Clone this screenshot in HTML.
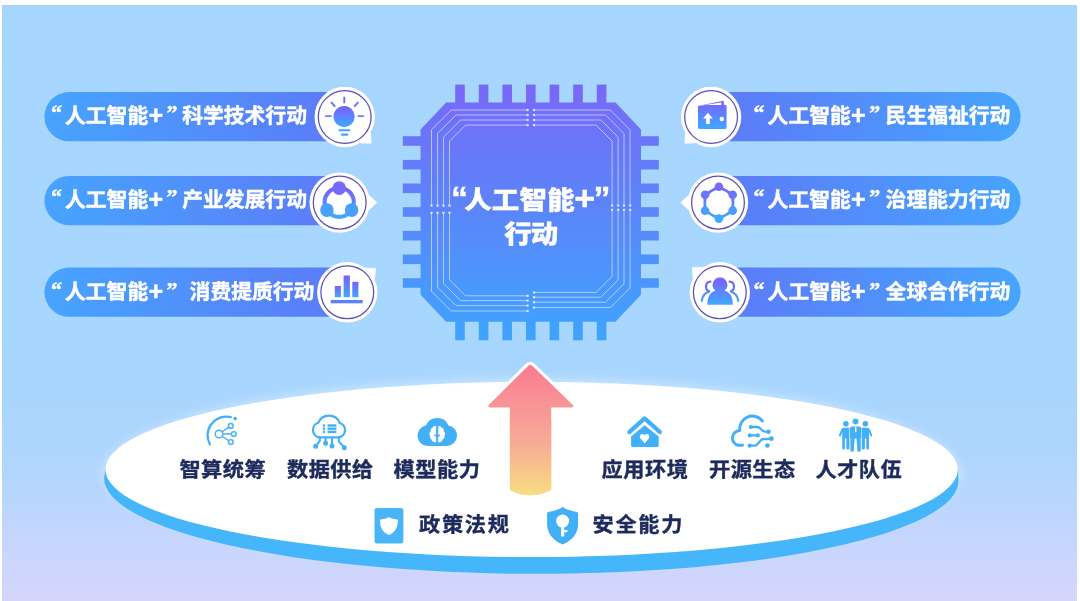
<!DOCTYPE html>
<html lang="zh-CN"><head><meta charset="utf-8"><title>“人工智能+”行动</title>
<style>
html,body{margin:0;padding:0;background:#fff;}
body{width:1080px;height:601px;overflow:hidden;font-family:"Liberation Sans","Noto Sans CJK SC",sans-serif;}
svg{display:block}
text{font-family:"Liberation Sans","Noto Sans CJK SC",sans-serif;}
.pt{font-size:20.8px;font-weight:700;fill:#fff;stroke:#fff;stroke-width:0.45px;}
.q{font-size:22px;font-family:"Liberation Serif","Noto Serif CJK SC",serif;}
.pp{font-size:25px;}
.bt{font-size:21.2px;font-weight:700;fill:#1d2a5b;stroke:#1d2a5b;stroke-width:0.4px;}
.tt{font-size:27.5px;font-weight:900;fill:#fff;stroke:#fff;stroke-width:0.4px;}
</style></head><body>
<svg width="1080" height="601" viewBox="0 0 1080 601">
<defs>
<linearGradient id="bg" x1="0" y1="0" x2="0" y2="1">
<stop offset="0" stop-color="#a6d6fe"/><stop offset="0.6" stop-color="#a7d6fe"/><stop offset="0.747" stop-color="#add6fe"/><stop offset="0.83" stop-color="#b9d6fe"/><stop offset="0.914" stop-color="#c8d6fd"/><stop offset="1" stop-color="#d6d5fc"/>
</linearGradient>
<linearGradient id="chip" gradientUnits="userSpaceOnUse" x1="0" y1="84" x2="0" y2="341">
<stop offset="0" stop-color="#7a66f8"/><stop offset="0.12" stop-color="#7070f8"/><stop offset="0.5" stop-color="#5a86f9"/><stop offset="1" stop-color="#3ea4fe"/>
</linearGradient>
<linearGradient id="pl" gradientUnits="userSpaceOnUse" x1="44" y1="0" x2="345" y2="0">
<stop offset="0" stop-color="#46a4fe"/><stop offset="1" stop-color="#5d7af8"/>
</linearGradient>
<linearGradient id="pr" gradientUnits="userSpaceOnUse" x1="715" y1="0" x2="1021" y2="0">
<stop offset="0" stop-color="#5d7af8"/><stop offset="1" stop-color="#46a4fe"/>
</linearGradient>
<linearGradient id="ic" x1="0" y1="0" x2="0" y2="1">
<stop offset="0" stop-color="#7b60fb"/><stop offset="1" stop-color="#3fa8ff"/>
</linearGradient>
<linearGradient id="arrow" gradientUnits="userSpaceOnUse" x1="0" y1="365" x2="0" y2="496">
<stop offset="0" stop-color="#f97c91"/><stop offset="0.32" stop-color="#f99596"/><stop offset="0.62" stop-color="#f8ad96"/><stop offset="0.85" stop-color="#f8cb88"/><stop offset="1" stop-color="#f6de82"/>
</linearGradient>
<filter id="soft" filterUnits="userSpaceOnUse" x="0" y="0" width="1080" height="601"><feGaussianBlur stdDeviation="0.55"/></filter>
<filter id="glow" x="-10%" y="-30%" width="120%" height="160%"><feGaussianBlur stdDeviation="5"/></filter>
</defs>
<rect width="1080" height="601" fill="#fff"/>
<rect x="2" y="5" width="1075" height="596" fill="url(#bg)"/>
<g filter="url(#soft)">

<g fill="url(#chip)">
<rect x="455.2" y="84.6" width="9.6" height="18.8"/>
<rect x="455.2" y="320.7" width="9.6" height="19.6"/>
<rect x="478.8" y="84.6" width="9.6" height="18.8"/>
<rect x="478.8" y="320.7" width="9.6" height="19.6"/>
<rect x="502.4" y="84.6" width="9.6" height="18.8"/>
<rect x="502.4" y="320.7" width="9.6" height="19.6"/>
<rect x="526.0" y="84.6" width="9.6" height="18.8"/>
<rect x="526.0" y="320.7" width="9.6" height="19.6"/>
<rect x="549.6" y="84.6" width="9.6" height="18.8"/>
<rect x="549.6" y="320.7" width="9.6" height="19.6"/>
<rect x="573.2" y="84.6" width="9.6" height="18.8"/>
<rect x="573.2" y="320.7" width="9.6" height="19.6"/>
<rect x="596.8" y="84.6" width="9.6" height="18.8"/>
<rect x="596.8" y="320.7" width="9.6" height="19.6"/>
<rect x="402.8" y="136.2" width="18.8" height="9.6"/>
<rect x="640.0" y="136.2" width="18.8" height="9.6"/>
<rect x="402.8" y="159.9" width="18.8" height="9.6"/>
<rect x="640.0" y="159.9" width="18.8" height="9.6"/>
<rect x="402.8" y="183.5" width="18.8" height="9.6"/>
<rect x="640.0" y="183.5" width="18.8" height="9.6"/>
<rect x="402.8" y="207.2" width="18.8" height="9.6"/>
<rect x="640.0" y="207.2" width="18.8" height="9.6"/>
<rect x="402.8" y="230.9" width="18.8" height="9.6"/>
<rect x="640.0" y="230.9" width="18.8" height="9.6"/>
<rect x="402.8" y="254.5" width="18.8" height="9.6"/>
<rect x="640.0" y="254.5" width="18.8" height="9.6"/>
<rect x="402.8" y="278.2" width="18.8" height="9.6"/>
<rect x="640.0" y="278.2" width="18.8" height="9.6"/>
<path d="M446.1,102.4 H615.5 L641.0,129.4 V294.7 L615.5,321.7 H446.1 L420.6,294.7 V129.4 Z"/>
</g>
<g fill="none" stroke="#e4e6ff" stroke-opacity="0.66" stroke-width="1">
<path d="M527.6,110 H451.3 L431.5,129.8 V205.6"/>
<path d="M534.0,110 H610.3 L630.0999999999999,129.8 V205.6"/>
<path d="M527.6,311 H451.3 L431.5,291.2 V212.8"/>
<path d="M534.0,307.6 H610.3 L630.0999999999999,287.8 V209.8"/>
<path d="M527.6,115 H456.0 L437.6,133.4 V205.6"/>
<path d="M534.0,115 H605.5999999999999 L623.9999999999999,133.4 V205.6"/>
<path d="M527.6,305.6 H456.0 L437.6,287.20000000000005 V212.8"/>
<path d="M534.0,302.20000000000005 H605.5999999999999 L623.9999999999999,283.80000000000007 V209.8"/>
<path d="M527.6,120 H460.7 L443.5,137.2 V205.6"/>
<path d="M534.0,120 H600.8999999999999 L618.0999999999999,137.2 V205.6"/>
<path d="M527.6,300.6 H460.7 L443.5,283.40000000000003 V212.8"/>
<path d="M534.0,297.20000000000005 H600.8999999999999 L618.0999999999999,280.00000000000006 V209.8"/>
<path d="M527.6,125.1 H465.5 L449.5,141.1 V205.6"/>
<path d="M534.0,125.1 H596.0999999999999 L612.0999999999999,141.1 V205.6"/>
<path d="M527.6,295.8 H465.5 L449.5,279.8 V212.8"/>
<path d="M534.0,292.40000000000003 H596.0999999999999 L612.0999999999999,276.40000000000003 V209.8"/>
</g>
<g fill="#eef0ff" fill-opacity="0.85">
<rect x="526.5" y="108.9" width="2.2" height="2.2"/>
<rect x="532.9" y="108.9" width="2.2" height="2.2"/>
<rect x="526.5" y="309.9" width="2.2" height="2.2"/>
<rect x="532.9" y="306.5" width="2.2" height="2.2"/>
<rect x="430.4" y="204.5" width="2.2" height="2.2"/>
<rect x="430.4" y="211.7" width="2.2" height="2.2"/>
<rect x="629.0" y="204.5" width="2.2" height="2.2"/>
<rect x="629.0" y="208.7" width="2.2" height="2.2"/>
<rect x="526.5" y="113.9" width="2.2" height="2.2"/>
<rect x="532.9" y="113.9" width="2.2" height="2.2"/>
<rect x="526.5" y="304.5" width="2.2" height="2.2"/>
<rect x="532.9" y="301.1" width="2.2" height="2.2"/>
<rect x="436.5" y="204.5" width="2.2" height="2.2"/>
<rect x="436.5" y="211.7" width="2.2" height="2.2"/>
<rect x="622.9" y="204.5" width="2.2" height="2.2"/>
<rect x="622.9" y="208.7" width="2.2" height="2.2"/>
<rect x="526.5" y="118.9" width="2.2" height="2.2"/>
<rect x="532.9" y="118.9" width="2.2" height="2.2"/>
<rect x="526.5" y="299.5" width="2.2" height="2.2"/>
<rect x="532.9" y="296.1" width="2.2" height="2.2"/>
<rect x="442.4" y="204.5" width="2.2" height="2.2"/>
<rect x="442.4" y="211.7" width="2.2" height="2.2"/>
<rect x="617.0" y="204.5" width="2.2" height="2.2"/>
<rect x="617.0" y="208.7" width="2.2" height="2.2"/>
<rect x="526.5" y="124.0" width="2.2" height="2.2"/>
<rect x="532.9" y="124.0" width="2.2" height="2.2"/>
<rect x="526.5" y="294.7" width="2.2" height="2.2"/>
<rect x="532.9" y="291.3" width="2.2" height="2.2"/>
<rect x="448.4" y="204.5" width="2.2" height="2.2"/>
<rect x="448.4" y="211.7" width="2.2" height="2.2"/>
<rect x="611.0" y="204.5" width="2.2" height="2.2"/>
<rect x="611.0" y="208.7" width="2.2" height="2.2"/>
</g>
<g transform="translate(0,208.6) scale(1,0.9)"><text class="tt" y="0"><tspan x="451.0" font-size="34">“</tspan><tspan x="464.2" letter-spacing="0.15">人工智能</tspan><tspan x="574.2" font-size="36" dy="2">+</tspan><tspan x="593.4" font-size="34" dy="-2">”</tspan></text></g>
<g transform="translate(0,243.4) scale(1,0.9)"><text class="tt" x="504.2" y="0" letter-spacing="-1">行动</text></g>
<path d="M69.0,92.1 H344.7 V141.3 H69.0 A24.6,24.6 0 0 1 69.0,92.1Z" fill="url(#pl)"/>
<text class="pt" y="122.6"><tspan x="51.0" class="q" dy="-2.2">“</tspan><tspan x="65.0" dy="2.2">人工智能</tspan><tspan x="148.4" class="pp" dy="1.2">+</tspan><tspan x="166.6" class="q" dy="-3.4">”</tspan><tspan x="182.2" dy="2.2">科学技术行动</tspan></text>
<path d="M711.1,92.1 H996.0 A24.6,24.6 0 0 1 996.0,141.3 H711.1Z" fill="url(#pr)"/>
<text class="pt" y="122.6"><tspan x="753.6" class="q" dy="-2.2">“</tspan><tspan x="767.6" dy="2.2">人工智能</tspan><tspan x="851.0" class="pp" dy="1.2">+</tspan><tspan x="869.2" class="q" dy="-3.4">”</tspan><tspan x="885.6" dy="2.2">民生福祉行动</tspan></text>
<path d="M69.0,176.0 H339.7 V225.2 H69.0 A24.6,24.6 0 0 1 69.0,176.0Z" fill="url(#pl)"/>
<text class="pt" y="206.6"><tspan x="51.0" class="q" dy="-2.2">“</tspan><tspan x="65.0" dy="2.2">人工智能</tspan><tspan x="148.4" class="pp" dy="1.2">+</tspan><tspan x="166.6" class="q" dy="-3.4">”</tspan><tspan x="182.2" dy="2.2">产业发展行动</tspan></text>
<path d="M718.0,176.0 H996.0 A24.6,24.6 0 0 1 996.0,225.2 H718.0Z" fill="url(#pr)"/>
<text class="pt" y="206.6"><tspan x="753.6" class="q" dy="-2.2">“</tspan><tspan x="767.6" dy="2.2">人工智能</tspan><tspan x="851.0" class="pp" dy="1.2">+</tspan><tspan x="869.2" class="q" dy="-3.4">”</tspan><tspan x="885.6" dy="2.2">治理能力行动</tspan></text>
<path d="M69.0,267.59999999999997 H347.3 V316.8 H69.0 A24.6,24.6 0 0 1 69.0,267.59999999999997Z" fill="url(#pl)"/>
<text class="pt" y="299.0"><tspan x="51.0" class="q" dy="-2.2">“</tspan><tspan x="65.0" dy="2.2">人工智能</tspan><tspan x="148.4" class="pp" dy="1.2">+</tspan><tspan x="166.6" class="q" dy="-3.4">”</tspan><tspan x="189.6" dy="2.2">消费提质行动</tspan></text>
<path d="M719.8,267.59999999999997 H996.0 A24.6,24.6 0 0 1 996.0,316.8 H719.8Z" fill="url(#pr)"/>
<text class="pt" y="299.0"><tspan x="753.6" class="q" dy="-2.2">“</tspan><tspan x="767.6" dy="2.2">人工智能</tspan><tspan x="851.0" class="pp" dy="1.2">+</tspan><tspan x="869.2" class="q" dy="-3.4">”</tspan><tspan x="885.6" dy="2.2">全球合作行动</tspan></text>
<circle cx="344.7" cy="117.0" r="30.2" fill="#fff"/>
<path d="M370.6,132.6 L371.0,143.3 L360.3,142.9Z" fill="#fff" stroke="#fff" stroke-width="0.6" stroke-linejoin="round"/>
<circle cx="344.7" cy="117.0" r="26.4" fill="none" stroke="#5d4fb6" stroke-width="1.25"/>
<circle cx="711.1" cy="117.0" r="30.2" fill="#fff"/>
<path d="M695.5,142.9 L684.8,143.3 L685.2,132.6Z" fill="#fff" stroke="#fff" stroke-width="0.6" stroke-linejoin="round"/>
<circle cx="711.1" cy="117.0" r="26.4" fill="none" stroke="#5d4fb6" stroke-width="1.25"/>
<circle cx="339.7" cy="202.6" r="30.2" fill="#fff"/>
<path d="M369.0,195.3 L376.9,202.6 L369.0,209.9Z" fill="#fff" stroke="#fff" stroke-width="0.6" stroke-linejoin="round"/>
<circle cx="339.7" cy="202.6" r="26.4" fill="none" stroke="#5d4fb6" stroke-width="1.25"/>
<circle cx="718.0" cy="202.6" r="30.2" fill="#fff"/>
<path d="M688.7,209.9 L680.8,202.6 L688.7,195.3Z" fill="#fff" stroke="#fff" stroke-width="0.6" stroke-linejoin="round"/>
<circle cx="718.0" cy="202.6" r="26.4" fill="none" stroke="#5d4fb6" stroke-width="1.25"/>
<circle cx="347.3" cy="292.3" r="30.2" fill="#fff"/>
<path d="M365.1,267.9 L375.8,268.4 L374.4,279.1Z" fill="#fff" stroke="#fff" stroke-width="0.6" stroke-linejoin="round"/>
<circle cx="347.3" cy="292.3" r="26.4" fill="none" stroke="#5d4fb6" stroke-width="1.25"/>
<circle cx="719.8" cy="292.3" r="30.2" fill="#fff"/>
<path d="M693.1,278.1 L692.2,267.4 L702.9,267.3Z" fill="#fff" stroke="#fff" stroke-width="0.6" stroke-linejoin="round"/>
<circle cx="719.8" cy="292.3" r="26.4" fill="none" stroke="#5d4fb6" stroke-width="1.25"/>
<g id="i-bulb">
<circle cx="344.1" cy="116.6" r="10.6" fill="url(#ic)"/>
<g stroke="#5f86fb" stroke-width="1.9" stroke-linecap="round" fill="none">
<path d="M344.3,97.4V102.4" stroke="#7468fb"/>
<path d="M331.6,102.6L334.6,106.2" stroke="#6f70fb"/><path d="M357.8,102.6L354.8,106.2" stroke="#6f70fb"/>
<path d="M325.8,116.1H331"/><path d="M358.4,116.1H363.4"/>
<path d="M339.4,130.3H349.4" stroke="#4a9efd" stroke-width="2.1"/><path d="M341.8,134.6H347.4" stroke="#45a3fe" stroke-width="2.1"/>
</g></g>
<g id="i-ring">
<circle cx="339.2" cy="202.3" r="14.6" fill="none" stroke="url(#ic)" stroke-width="4.1"/>
<circle cx="339.2" cy="188.1" r="6.8" fill="#7769fb"/>
<circle cx="326.9" cy="210.1" r="6.8" fill="#489ffe"/>
<circle cx="351.6" cy="210.1" r="6.8" fill="#489ffe"/>
</g>
<g id="i-bars" fill="url(#ic)">
<rect x="334.8" y="286" width="6.1" height="11.2"/>
<rect x="343.6" y="275.5" width="6.3" height="21.7"/>
<rect x="352.3" y="281.9" width="6.1" height="15.3"/>
<rect x="330.7" y="300" width="32" height="3.3" fill="#5a82fa"/>
</g>
<g id="i-wallet">
<path d="M698,105.9 L722.3,100.9 Q723.9,100.7 723.9,102.3 V104.8 H725 Q726.6,104.8 726.6,106.4 V127.5 Q726.6,129.1 725,129.1 H699.6 Q698,129.1 698,127.5 Z" fill="url(#ic)"/>
<path d="M701.6,105.5 L721.4,102.6 V104.9 H701.6Z" fill="#fff"/>
<path d="M707.9,112.8 L712.8,118.6 H709.7 V124 H706.1 V118.6 H703Z" fill="#fff"/>
<circle cx="721.8" cy="119" r="2.2" fill="#fff"/>
</g>
<g id="i-hex">
<polygon points="718.9,186.8 732.7,194.8 732.7,210.6 718.9,218.6 705.1,210.7 705.1,194.8" fill="none" stroke="url(#ic)" stroke-width="3.2" stroke-linejoin="round"/>
<circle cx="718.9" cy="202.7" r="12.7" fill="#fff"/>
<circle cx="718.9" cy="186.8" r="4.3" fill="#7868fb"/>
<circle cx="732.7" cy="194.8" r="4.3" fill="#6d74fb"/>
<circle cx="732.7" cy="210.6" r="4.3" fill="#4c9cfe"/>
<circle cx="718.9" cy="218.6" r="4.3" fill="#40a8ff"/>
<circle cx="705.1" cy="210.7" r="4.3" fill="#4c9cfe"/>
<circle cx="705.1" cy="194.8" r="4.3" fill="#6d74fb"/>
</g>
<g id="i-people">
<g fill="none" stroke="url(#ic)" stroke-width="2.2" stroke-linecap="round">
<path d="M710.4,281.6 A4.9,4.9 0 0 0 710,291.3 Q702.6,293.4 701.8,300.8"/>
<path d="M729.6,281.6 A4.9,4.9 0 0 1 730,291.3 Q737.4,293.4 738.2,300.8"/>
</g>
<path d="M720,277.6 A7.3,7.3 0 0 1 724.6,290.6 Q732.6,293.2 732.8,303.2 V304.7 H707.4 V303.2 Q707.6,293.2 715.4,290.6 A7.3,7.3 0 0 1 720,277.6Z" fill="url(#ic)" stroke="#fff" stroke-width="2.6" paint-order="stroke" stroke-linejoin="round"/>
</g>
<ellipse cx="531.6" cy="473.5" rx="430.2" ry="95.6" fill="#ffffff" fill-opacity="0.32" filter="url(#glow)"/>
<ellipse cx="531.3" cy="479.4" rx="427.2" ry="94.4" fill="#45b6fa" transform="rotate(0.18 531.3 479.4)"/>
<rect x="105.0" y="469.5" width="853.2" height="11" fill="#45b6fa"/>
<ellipse cx="531.6" cy="469.5" rx="426.2" ry="87.6" fill="#fff"/>
<path d="M530.3,365.0 Q531.8,365.0 532.8,366.2 L572.4,404.6 Q574.8,407.4 571.2,407.4 H551.2 V490 Q530.6,500.6 509.9,490 V407.4 H490.6 Q486.8,407.4 489.2,404.6 L527.8,366.2 Q528.8,365.0 530.3,365.0Z" fill="url(#arrow)" stroke="#fff" stroke-width="6" stroke-linejoin="round" paint-order="stroke"/>
<path d="M551.2,420 V490 Q530.6,500.6 509.9,490 V420Z" fill="url(#arrow)"/>
<g transform="translate(179.4,476.6) scale(1,0.95)"><text class="bt" x="0" y="0" letter-spacing="0.5">智算统筹</text></g>
<g transform="translate(287.0,476.6) scale(1,0.95)"><text class="bt" x="0" y="0" letter-spacing="0.5">数据供给</text></g>
<g transform="translate(393.6,476.6) scale(1,0.95)"><text class="bt" x="0" y="0" letter-spacing="0.5">模型能力</text></g>
<g transform="translate(601.6,476.6) scale(1,0.95)"><text class="bt" x="0" y="0" letter-spacing="0.5">应用环境</text></g>
<g transform="translate(709.0,476.6) scale(1,0.95)"><text class="bt" x="0" y="0" letter-spacing="0.5">开源生态</text></g>
<g transform="translate(815.4,476.6) scale(1,0.95)"><text class="bt" x="0" y="0" letter-spacing="0.5">人才队伍</text></g>
<g transform="translate(419.0,531.6) scale(1,0.95)"><text class="bt" x="0" y="0" letter-spacing="1.7">政策法规</text></g>
<g transform="translate(592.6,531.6) scale(1,0.95)"><text class="bt" x="0" y="0" letter-spacing="1.7">安全能力</text></g>
<g id="b-share" fill="none" stroke="#42b0f8" stroke-linecap="round">
<path d="M209.9,444.4 A18.7,18.7 0 0 1 230.8,417.2" stroke-width="2.3"/>
<circle cx="235.2" cy="418.6" r="1.8" fill="#42b0f8" stroke="none"/>
<g stroke-width="1.4">
<path d="M219,434 L230.8,425.9 M219,434 L233.8,434 M219,434 L230.8,442"/>
<circle cx="219" cy="434" r="3.8" fill="#fbfeff"/>
<circle cx="230.8" cy="425.9" r="2.4" fill="#f4fbff"/><circle cx="233.8" cy="434" r="2.4" fill="#f4fbff"/><circle cx="230.8" cy="442" r="2.4" fill="#f4fbff"/>
</g></g>
<g id="b-data" fill="none" stroke="#42b0f8" stroke-width="2.2" stroke-linecap="round" stroke-linejoin="round">
<path d="M319.6,437.4 A7.5,7.5 0 0 1 318.2,422.8 A11.6,11.6 0 0 1 339.8,423 A7.4,7.4 0 0 1 338.6,437.4 Z"/>
<g stroke-width="2.1"><path d="M319.8,437.6 V440.8 L316,445.8"/><path d="M325.6,437.6 V442.6"/><path d="M332,437.6 V445.4"/><path d="M338.8,437.6 V441.4 L344,447.2"/></g>
<g fill="#42b0f8" stroke="none"><circle cx="315.7" cy="446.3" r="2.5"/><circle cx="325.6" cy="443.2" r="2.5"/><circle cx="332" cy="446" r="2.5"/><circle cx="344.3" cy="447.8" r="2.5"/>
<rect x="322.8" y="424.3" width="2.2" height="2.4"/><rect x="327.6" y="424.3" width="8.8" height="2.4"/>
<rect x="322.8" y="427.5" width="2.2" height="2.4"/><rect x="327.6" y="427.5" width="8.8" height="2.4"/>
<rect x="322.8" y="430.7" width="2.2" height="2.4"/><rect x="327.6" y="430.7" width="8.8" height="2.4"/>
</g></g>
<g id="b-model">
<path d="M427.4,446 A10.3,10.3 0 0 1 425.8,425.6 A12.4,12.4 0 0 1 448.6,425.4 A10.4,10.4 0 0 1 447,446 Z" fill="#42b0f8"/>
<path d="M436.1,426 Q433.4,425.4 432.4,427.8 Q430.2,428.6 430.6,431.2 Q428.4,433.4 430,435.8 Q429.4,438.4 431.6,439.4 Q432.2,442.2 436.1,442.2 V437 L434,435.2 L434.8,434.2 L436.1,435.2 Z" fill="#fff"/>
<path d="M438.3,426 Q441,425.4 442,427.8 Q444.2,428.6 443.8,431.2 Q446,433.4 444.4,435.8 Q445,438.4 442.8,439.4 Q442.2,442.2 438.3,442.2 V437 L440.4,435.2 L439.6,434.2 L438.3,435.2 Z" fill="#fff"/>
</g>
<g id="b-house">
<path d="M629.4,432 L644.6,418.4 L659.8,432" fill="none" stroke="#42b0f8" stroke-width="4.3" stroke-linecap="round" stroke-linejoin="round"/>
<path d="M644.6,425.2 L658.7,436.6 V445.6 Q658.7,447.1 657.2,447.1 H632.6 Q631.1,447.1 631.1,445.6 V436.6 Z" fill="#42b0f8"/>
<path d="M644.6,443.2 L640.6,438.8 Q639,436.4 640.6,434.6 Q642.6,433 644.6,435.2 Q646.6,433 648.6,434.6 Q650.2,436.4 648.6,438.8 Z" fill="#fff"/>
</g>
<g id="b-open" fill="none" stroke="#42b0f8" stroke-linecap="round" stroke-linejoin="round">
<path d="M742.6,445.3 H738.6 A7.4,7.4 0 0 1 739.8,430.6 A12.7,12.7 0 0 1 762.4,421" stroke-width="2.9"/>
<g stroke-width="2.3"><path d="M751,427 H757 Q759,427 760.4,428.6 Q762.6,431.4 765,431.6 L768.4,431.8"/><path d="M749.8,435.4 H757.8"/><path d="M749.8,445.7 H754.6 Q756,445.7 757.2,444.4 L760.6,440.4 Q761.8,439 763.4,439 L771.2,438.8"/></g>
<g fill="#42b0f8" stroke="none"><circle cx="750.9" cy="427" r="2.1"/><circle cx="768.5" cy="431.8" r="2.3"/><circle cx="749.8" cy="435.4" r="2.1"/><circle cx="757.8" cy="435.4" r="2.1"/><circle cx="749.7" cy="445.7" r="2.1"/><circle cx="771.4" cy="438.7" r="2.4"/><circle cx="767.4" cy="445.5" r="2.3"/></g>
</g>
<g id="b-people" fill="#42b0f8">
<circle cx="845.9" cy="423.8" r="2.8"/>
<path d="M849.5,427.8 H843.6999999999999 Q841.9,427.8 841.3,429.4 L839.0,435 Q838.6999999999999,436.2 839.6999999999999,436.4 Q840.5,436.4 840.9,435.4 L842.1999999999999,432.2 V448.4 Q842.1999999999999,449.4 843.5,449.4 Q844.9,449.4 844.9,448.4 V438.6 H846.3 V448.4 Q846.3,449.4 847.6999999999999,449.4 Q849.5,449.4 849.5,448.4 Z"/>
<circle cx="865.3" cy="423.8" r="2.8"/>
<path d="M861.6999999999999,427.8 H867.5 Q869.3,427.8 869.9,429.4 L872.1999999999999,435 Q872.5,436.2 871.5,436.4 Q870.6999999999999,436.4 870.3,435.4 L869.0,432.2 V448.4 Q869.0,449.4 867.6999999999999,449.4 Q866.3,449.4 866.3,448.4 V438.6 H864.9 V448.4 Q864.9,449.4 863.5,449.4 Q861.6999999999999,449.4 861.6999999999999,448.4 Z"/>
<circle cx="855.6" cy="421.5" r="3.3" stroke="#fff" stroke-width="0.6"/>
<path d="M852,426.4 H859.2 Q861.2,426.6 861.4,428.6 V437.4 Q861.4,438 860.8,438 V450.4 Q860.8,451.7 859.1,451.7 Q857.4,451.7 857.4,450.4 L856.5,438.6 H854.7 L853.8,450.4 Q853.8,451.7 852.1,451.7 Q850.4,451.7 850.4,450.4 V438 Q849.8,438 849.8,437.4 V428.6 Q850,426.6 852,426.4 Z" stroke="#fff" stroke-width="0.7" paint-order="stroke"/>
<path d="M855,427 H856.4 V431.6 L855.7,432.4 L855,431.6 Z" fill="#fff"/>
</g>
<g id="b-policy"><rect x="374.5" y="508" width="28.9" height="35.4" rx="2.6" fill="#4ab5f9"/>
<path d="M388.9,517 Q390.6,518.6 397.2,519.4 Q398,519.5 397.9,520.4 Q397.8,531.4 388.9,535 Q380,531.4 379.9,520.4 Q379.8,519.5 380.6,519.4 Q387.2,518.6 388.9,517Z" fill="#fff"/></g>
<g id="b-sec"><path d="M562.6,506.8 Q566.4,510.4 577,512 Q578.1,512.2 578.1,513.4 V524 Q578.1,537.6 562.6,544.6 Q547.1,537.6 547.1,524 V513.4 Q547.1,512.2 548.2,512 Q558.8,510.4 562.6,506.8Z" fill="#42b0f8"/>
<circle cx="562.6" cy="521.1" r="6.5" fill="#fff"/><rect x="561.1" y="526" width="3.1" height="10.6" rx="0.6" fill="#fff"/><rect x="562.6" y="530" width="4.9" height="2.2" rx="0.4" fill="#fff"/></g>
</g></svg></body></html>
